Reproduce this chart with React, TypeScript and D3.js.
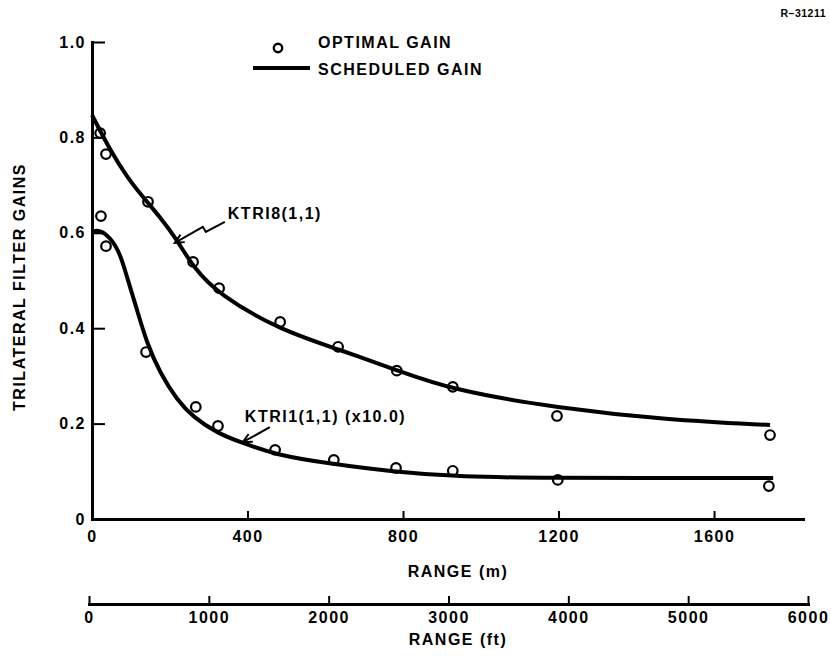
import React, { useEffect, useRef } from "react";
import * as d3 from "d3";

// KTRI8(1,1) optimal gain points (range in m)
const optimalRange8 = [21, 36, 144, 260, 327, 484, 633, 784, 928, 1196, 1744];
const optimalGain8 = [0.809, 0.765, 0.665, 0.539, 0.484, 0.413, 0.361, 0.311, 0.277, 0.216, 0.176];

// KTRI1(1,1) x10 optimal gain points
const optimalRange1 = [23, 36, 139, 267, 324, 471, 622, 782, 928, 1198, 1741];
const optimalGain1 = [0.635, 0.572, 0.35, 0.235, 0.195, 0.145, 0.124, 0.107, 0.101, 0.082, 0.069];

// scheduled gain curves
const scheduledRange8 = [0, 46, 90, 131, 175, 219, 260, 327, 484, 633, 784, 929, 1196, 1479, 1744];
const scheduledGain8 = [0.847, 0.774, 0.717, 0.675, 0.633, 0.585, 0.528, 0.47, 0.396, 0.356, 0.312, 0.27, 0.233, 0.208, 0.197];
const scheduledRange1 = [0, 20, 46, 72, 90, 116, 141, 175, 219, 260, 322, 388, 476, 604, 774, 947, 1196, 1479, 1752];
const scheduledGain1 = [0.603, 0.606, 0.591, 0.558, 0.507, 0.438, 0.369, 0.306, 0.249, 0.214, 0.18, 0.159, 0.134, 0.117, 0.099, 0.088, 0.086, 0.086, 0.086];

const rangeTicksM = [0, 400, 800, 1200, 1600];
const rangeTicksFt = [0, 1000, 2000, 3000, 4000, 5000, 6000];
const gainTicks = [0, 0.2, 0.4, 0.6, 0.8, 1.0];

const W = 831, H = 656;
const FONT = "'Liberation Sans', Arial, sans-serif";

export default function App() {
  const ref = useRef<SVGSVGElement>(null);

  useEffect(() => {
    const svg = d3.select(ref.current);
    svg.selectAll("*").remove(); // clear

    const x = d3.scaleLinear().domain([0, 1828.8]).range([92, 803]);
    const xFt = d3.scaleLinear().domain([0, 6000]).range([89, 808]);
    const y = d3.scaleLinear().domain([0, 1]).range([519, 42]);

    const font = (sel: any, size = 16, spacing = 1.5) =>
      sel
        .attr("font-family", FONT)
        .attr("font-weight", "bold")
        .attr("font-size", size)
        .attr("letter-spacing", spacing)
        .attr("fill", "#000");

    const styleAxis = (g: any) => {
      g.select(".domain").attr("stroke-width", 3).attr("stroke-linecap", "square");
      g.selectAll(".tick line").attr("stroke-width", 2);
      g.selectAll(".tick text").call(font);
    };

    // Y axis
    svg.append("g")
      .attr("transform", `translate(${x(0)},0)`)
      .call(d3.axisLeft(y).tickValues(gainTicks).tickSize(-13).tickSizeOuter(0).tickPadding(6)
        .tickFormat((d: any) => (d === 0 ? "0" : d3.format(".1f")(d))))
      .call(styleAxis);

    // X axis (m)
    svg.append("g")
      .attr("transform", `translate(0,${y(0)})`)
      .call(d3.axisBottom(x).tickValues(rangeTicksM).tickSize(-8).tickSizeOuter(0).tickPadding(12)
        .tickFormat(d3.format("d")))
      .call(styleAxis);

    // X axis (ft)
    svg.append("g")
      .attr("transform", `translate(0,604)`)
      .call(d3.axisBottom(xFt).tickValues(rangeTicksFt).tickSize(-8).tickSizeOuter(0).tickPadding(8)
        .tickFormat(d3.format("d")))
      .call(styleAxis);

    // axis titles
    svg.append("text").attr("x", 458).attr("y", 577).attr("text-anchor", "middle").text("RANGE (m)").call(font);
    svg.append("text").attr("x", 458).attr("y", 645).attr("text-anchor", "middle").text("RANGE (ft)").call(font);
    svg.append("text")
      .attr("transform", "translate(25,287) rotate(-90)")
      .attr("text-anchor", "middle")
      .text("TRILATERAL FILTER GAINS")
      .call(font);
    svg.append("text").attr("x", 826).attr("y", 17).attr("text-anchor", "end").text("R\u201331211").call(font, 10.5, 0.5);

    // scheduled gain curves
    const drawCurve = (ranges: number[], gains: number[]) => {
      const pts = ranges.map((r, i) => [x(r), y(gains[i])] as [number, number]);
      svg.append("path")
        .attr("d", d3.line().curve(d3.curveBasis)(pts))
        .attr("fill", "none")
        .attr("stroke", "#000")
        .attr("stroke-width", 4);
    };
    drawCurve(scheduledRange8, scheduledGain8);
    drawCurve(scheduledRange1, scheduledGain1);

    // optimal gain points
    const drawPoints = (ranges: number[], gains: number[]) => {
      svg.append("g")
        .selectAll("circle")
        .data(ranges)
        .enter()
        .append("circle")
        .attr("cx", (d) => x(d))
        .attr("cy", (d, i) => y(gains[i]))
        .attr("r", 4.8)
        .attr("fill", "none")
        .attr("stroke", "#000")
        .attr("stroke-width", 2.2);
    };
    drawPoints(optimalRange8, optimalGain8);
    drawPoints(optimalRange1, optimalGain1);

    // legend
    svg.append("circle").attr("cx", 278).attr("cy", 48).attr("r", 4.2).attr("fill", "none").attr("stroke", "#000").attr("stroke-width", 2.4);
    svg.append("text").attr("x", 318).attr("y", 48).text("OPTIMAL GAIN").call(font);
    svg.append("line").attr("x1", 253).attr("x2", 310).attr("y1", 68).attr("y2", 68).attr("stroke", "#000").attr("stroke-width", 4);
    svg.append("text").attr("x", 318).attr("y", 75).text("SCHEDULED GAIN").call(font);

    // annotations: tip in data space, path/text offsets in px
    const annotations = [
      { label: "KTRI8(1,1)", tip: [213, 0.579], path: [[50, -21], [31, -11], [28, -16], [0, 0]], text: [53, -24] },
      { label: "KTRI1(1,1) (x10.0)", tip: [388, 0.161], path: [[27, -15], [0, 0]], text: [2, -20] },
    ];
    annotations.forEach((a) => {
      const tx = x(a.tip[0]), ty = y(a.tip[1]);
      const pts = a.path.map(([dx, dy]) => [tx + dx, ty + dy] as [number, number]);
      svg.append("path")
        .attr("d", d3.line()(pts))
        .attr("fill", "none")
        .attr("stroke", "#000")
        .attr("stroke-width", 2);
      const [px, py] = pts[pts.length - 2];
      const ang = Math.atan2(ty - py, tx - px);
      const head = [-0.45, 0.45].map((o) => [tx - 10 * Math.cos(ang + o), ty - 10 * Math.sin(ang + o)] as [number, number]);
      svg.append("path")
        .attr("d", d3.line()([head[0], [tx, ty], head[1]]))
        .attr("fill", "none")
        .attr("stroke", "#000")
        .attr("stroke-width", 2);
      svg.append("text").attr("x", tx + a.text[0]).attr("y", ty + a.text[1]).text(a.label).call(font);
    });
  }, []);

  return (
    <svg
      ref={ref}
      width={W}
      height={H}
      style={{ position: "absolute", left: 0, top: 0, background: "#fff" }}
    />
  );
}
